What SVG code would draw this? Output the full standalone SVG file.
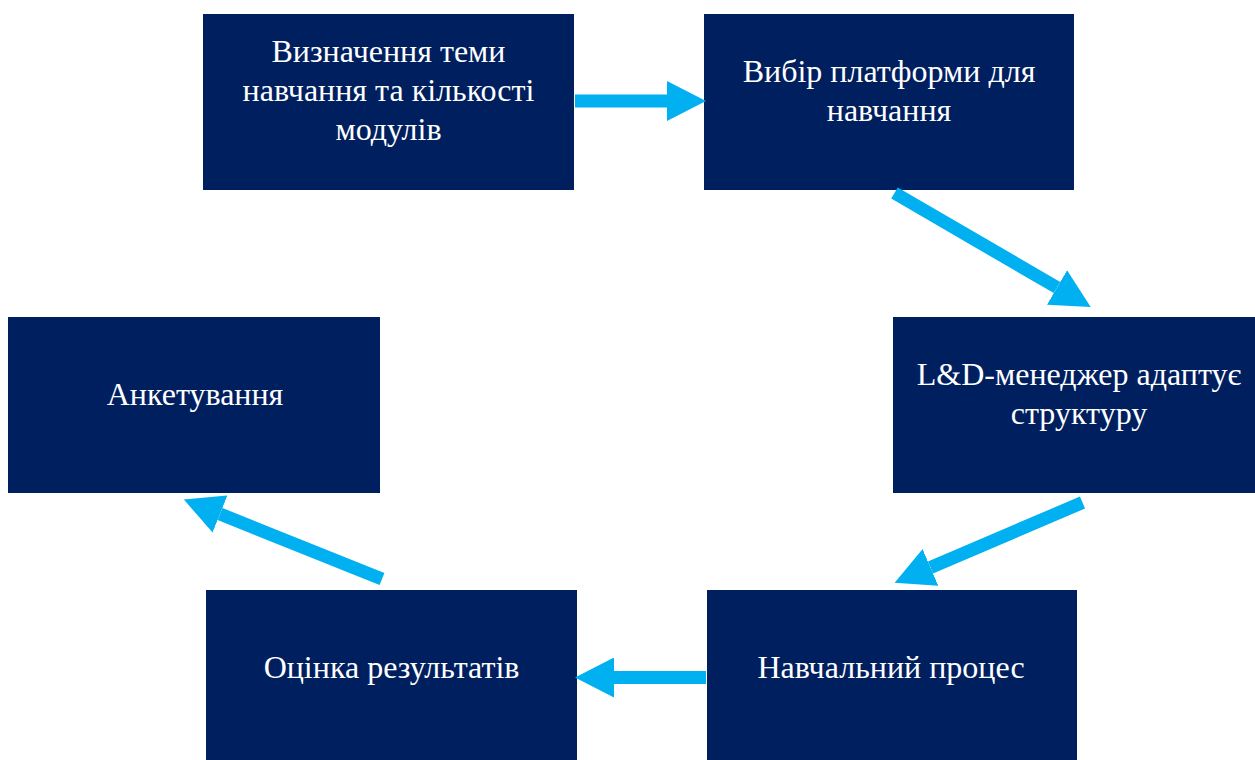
<svg xmlns="http://www.w3.org/2000/svg" width="1255" height="760" viewBox="0 0 1255 760">
<defs>
<style>
.box{fill:#001F5F}
.t{fill:#FFFFFF;font-family:"Liberation Serif","Times New Roman",serif;font-size:32px;text-anchor:middle}
.c{stroke:#00B0F0;stroke-width:13;fill:none}
</style>
<marker id="ah" markerUnits="userSpaceOnUse" markerWidth="40" markerHeight="40" refX="0" refY="20" orient="auto" viewBox="0 0 40 40">
<path d="M0,0 L39,20 L0,40 Z" fill="#00B0F0"/>
</marker>
</defs>
<rect width="1255" height="760" fill="#FFFFFF"/>
<g id="n1"><rect class="box" x="203" y="14" width="371" height="176"/>
<text class="t"><tspan x="388.5" y="62">Визначення теми</tspan><tspan x="388.5" y="101">навчання та кількості</tspan><tspan x="388.5" y="140">модулів</tspan></text></g>
<g id="n2"><rect class="box" x="704" y="14" width="370" height="176"/>
<text class="t"><tspan x="889" y="82">Вибір платформи для</tspan><tspan x="889" y="121">навчання</tspan></text></g>
<g id="n3"><rect class="box" x="893" y="317" width="362" height="176"/>
<text class="t"><tspan x="1079" y="385">L&amp;D-менеджер адаптує</tspan><tspan x="1079" y="424">структуру</tspan></text></g>
<g id="n4"><rect class="box" x="8" y="317" width="372" height="176"/>
<text class="t"><tspan x="195" y="405">Анкетування</tspan></text></g>
<g id="n5"><rect class="box" x="206" y="590" width="371" height="170"/>
<text class="t"><tspan x="391.5" y="678">Оцінка результатів</tspan></text></g>
<g id="n6"><rect class="box" x="707" y="590" width="370" height="170"/>
<text class="t"><tspan x="891" y="678">Навчальний процес</tspan></text></g>
<g id="connectors">
<line class="c" x1="575" y1="101" x2="667" y2="101" marker-end="url(#ah)"/>
<line class="c" x1="894.5" y1="193" x2="1057" y2="287.5" marker-end="url(#ah)"/>
<line class="c" x1="1082.5" y1="502.5" x2="930.5" y2="567.5" marker-end="url(#ah)"/>
<line class="c" x1="382" y1="579" x2="220" y2="514" marker-end="url(#ah)"/>
<line class="c" x1="706" y1="677.5" x2="614" y2="677.5" marker-end="url(#ah)"/>
</g>
</svg>
